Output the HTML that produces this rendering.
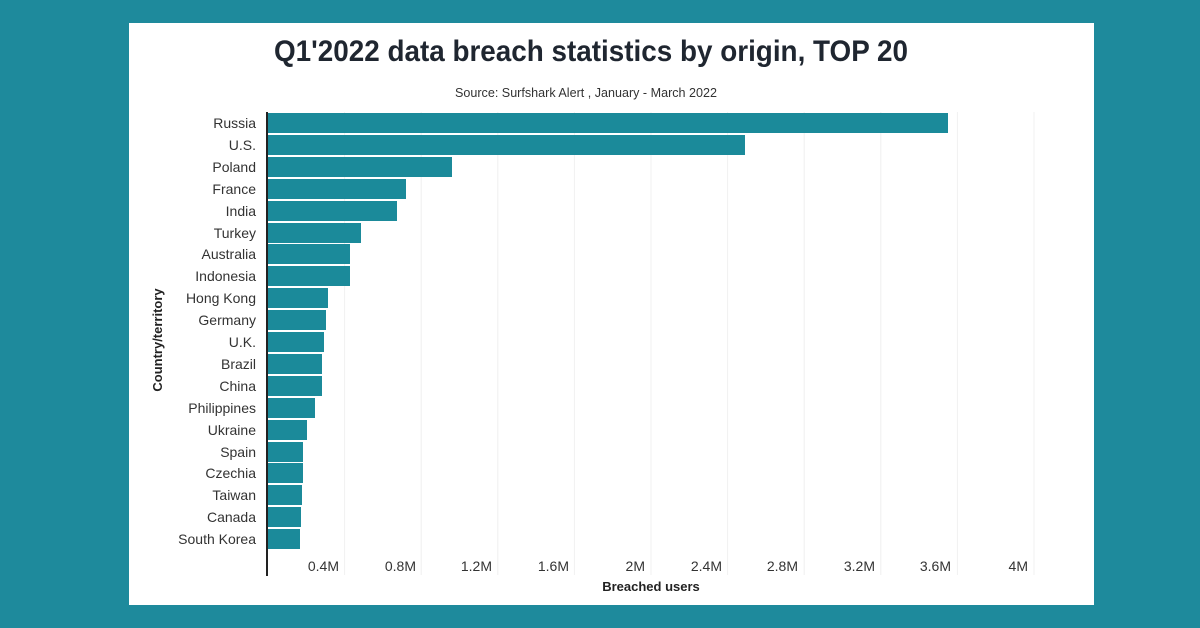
<!DOCTYPE html>
<html><head><meta charset="utf-8"><style>
html,body{margin:0;padding:0;width:1200px;height:628px;overflow:hidden;background:#1e8a9c;}
svg{display:block;font-family:"Liberation Sans",sans-serif;}
</style></head><body>
<svg width="1200" height="628" viewBox="0 0 1200 628" xmlns="http://www.w3.org/2000/svg">
<rect x="0" y="0" width="1200" height="628" fill="#1e8a9c"/>
<rect x="129" y="23" width="965" height="582" fill="#ffffff"/>
<text x="591" y="61" text-anchor="middle" font-size="30" font-weight="bold" fill="#1f2630" textLength="634" lengthAdjust="spacingAndGlyphs">Q1'2022 data breach statistics by origin, TOP 20</text>
<text x="586" y="97" text-anchor="middle" font-size="13" fill="#333" textLength="262" lengthAdjust="spacingAndGlyphs">Source: Surfshark Alert , January - March 2022</text>
<g stroke="#f0f0f0" stroke-width="1">
<line x1="344.6" y1="112" x2="344.6" y2="575"/><line x1="421.2" y1="112" x2="421.2" y2="575"/>
<line x1="497.8" y1="112" x2="497.8" y2="575"/><line x1="574.4" y1="112" x2="574.4" y2="575"/>
<line x1="651" y1="112" x2="651" y2="575"/><line x1="727.6" y1="112" x2="727.6" y2="575"/>
<line x1="804.2" y1="112" x2="804.2" y2="575"/><line x1="880.8" y1="112" x2="880.8" y2="575"/>
<line x1="957.4" y1="112" x2="957.4" y2="575"/><line x1="1034" y1="112" x2="1034" y2="575"/>
</g>
<g fill="#1b8a9a">
<rect x="268" y="113" width="680" height="20"/>
<rect x="268" y="135" width="477" height="20"/>
<rect x="268" y="157" width="184" height="20"/>
<rect x="268" y="179" width="138" height="20"/>
<rect x="268" y="201" width="129" height="20"/>
<rect x="268" y="223" width="93" height="20"/>
<rect x="268" y="244" width="82" height="20"/>
<rect x="268" y="266" width="82" height="20"/>
<rect x="268" y="288" width="60" height="20"/>
<rect x="268" y="310" width="58" height="20"/>
<rect x="268" y="332" width="56" height="20"/>
<rect x="268" y="354" width="54" height="20"/>
<rect x="268" y="376" width="54" height="20"/>
<rect x="268" y="398" width="47" height="20"/>
<rect x="268" y="420" width="39" height="20"/>
<rect x="268" y="442" width="35" height="20"/>
<rect x="268" y="463" width="35" height="20"/>
<rect x="268" y="485" width="34" height="20"/>
<rect x="268" y="507" width="33" height="20"/>
<rect x="268" y="529" width="32" height="20"/>
</g>
<line x1="267" y1="112" x2="267" y2="576" stroke="#222" stroke-width="2"/>
<g font-size="14" fill="#333" text-anchor="end">
<text x="256" y="128">Russia</text>
<text x="256" y="150">U.S.</text>
<text x="256" y="172">Poland</text>
<text x="256" y="194">France</text>
<text x="256" y="216">India</text>
<text x="256" y="238">Turkey</text>
<text x="256" y="259">Australia</text>
<text x="256" y="281">Indonesia</text>
<text x="256" y="303">Hong Kong</text>
<text x="256" y="325">Germany</text>
<text x="256" y="347">U.K.</text>
<text x="256" y="369">Brazil</text>
<text x="256" y="391">China</text>
<text x="256" y="413">Philippines</text>
<text x="256" y="435">Ukraine</text>
<text x="256" y="457">Spain</text>
<text x="256" y="478">Czechia</text>
<text x="256" y="500">Taiwan</text>
<text x="256" y="522">Canada</text>
<text x="256" y="544">South Korea</text>
</g>
<g font-size="14" fill="#333" text-anchor="end">
<text x="339" y="571">0.4M</text><text x="416" y="571">0.8M</text>
<text x="492" y="571">1.2M</text><text x="569" y="571">1.6M</text>
<text x="645" y="571">2M</text><text x="722" y="571">2.4M</text>
<text x="798" y="571">2.8M</text><text x="875" y="571">3.2M</text>
<text x="951" y="571">3.6M</text><text x="1028" y="571">4M</text>
</g>
<text x="651" y="591" text-anchor="middle" font-size="13" font-weight="bold" fill="#222">Breached users</text>
<text transform="translate(162,340) rotate(-90)" text-anchor="middle" font-size="13" font-weight="bold" fill="#222">Country/territory</text>
</svg>
</body></html>
